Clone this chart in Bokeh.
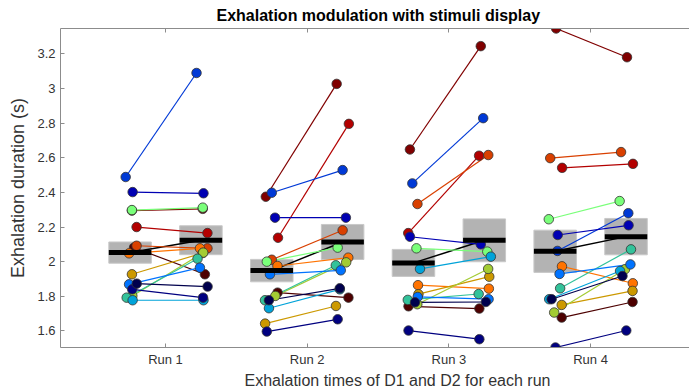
import numpy as np
from bokeh.plotting import figure
from bokeh.models import ColumnDataSource, FixedTicker, LinearAxis, Range1d, Title
from bokeh.embed import file_html
from bokeh.resources import INLINE

# ---------------- data ----------------
runs = ["Run 1", "Run 2", "Run 3", "Run 4"]
run_pos = [1, 2, 3, 4]

# one colour per subject (15 subjects)
subject_colors = ["#00004d", "#000080", "#0000b3", "#0039d6", "#0073ff",
                  "#00a3d9", "#33c29a", "#7aff7a", "#a3cc33", "#cc9900",
                  "#ff7300", "#d94000", "#b30000", "#800000", "#4d0000"]

# exhalation duration (s), D1 and D2, per run
d1_run1 = [1.873, 1.840, 2.402, 2.489, 1.869, 1.777, 1.792, 2.298, 1.802, 1.927, 2.048, 2.092, 2.200, 2.295, 2.081]
d2_run1 = [1.856, 1.792, 2.395, 3.090, 1.965, 1.777, 2.017, 2.312, 2.052, 2.050, 2.077, 2.077, 2.165, 2.305, 1.927]
d1_run2 = [1.777, 1.596, 2.254, 2.398, 1.927, 1.731, 1.777, 2.000, 1.802, 1.642, 1.975, 2.011, 2.138, 2.375, 1.821]
d2_run2 = [1.846, 1.667, 2.254, 2.529, 1.950, 1.840, 1.979, 2.081, 1.996, 1.744, 2.023, 2.181, 2.796, 3.027, 1.792]
d1_run3 = [1.765, 1.602, 2.144, 2.452, 1.796, 1.958, 1.779, 2.077, 1.754, 1.812, 1.864, 2.333, 2.165, 2.648, 1.742]
d2_run3 = [1.767, 1.552, 2.100, 2.829, 1.783, 2.029, 1.813, 2.058, 1.958, 1.913, 1.844, 2.616, 2.612, 3.245, 1.729]
d1_run4 = [1.783, 1.504, 2.154, 2.062, 1.929, 1.783, 1.846, 2.245, 1.706, 1.750, 1.973, 2.598, 2.542, 3.347, 1.677]
d2_run4 = [1.917, 1.602, 2.210, 2.280, 1.984, 1.946, 2.071, 2.350, 1.956, 1.831, 1.875, 2.633, 2.565, 3.181, 1.767]

# horizontal scatter of each subject within a run (x units)
jitter_run1 = [0.047, 0.015, 0.018, -0.031, -0.007, 0.018, -0.024, 0.013, 0.016, 0.013, -0.007, 0.046, 0.046, 0.013, 0.028]
jitter_run2 = [-0.020, -0.035, 0.023, 0.000, -0.013, -0.020, -0.048, -0.035, 0.025, -0.047, 0.040, 0.000, 0.044, -0.042, 0.041]
jitter_run3 = [0.011, -0.035, -0.025, -0.008, 0.030, 0.046, -0.040, 0.021, 0.027, 0.035, 0.032, 0.028, -0.037, -0.025, -0.035]
jitter_run4 = [-0.025, 0.002, 0.018, 0.016, 0.031, -0.042, 0.035, -0.045, -0.007, 0.046, 0.048, -0.035, 0.049, 0.007, 0.046]

y_ticks = [1.6, 1.8, 2.0, 2.2, 2.4, 2.6, 2.8, 3.0, 3.2]
y_tick_labels = ["1.6", "1.8", "2", "2.2", "2.4", "2.6", "2.8", "3", "3.2"]

d1_all = [d1_run1, d1_run2, d1_run3, d1_run4]
d2_all = [d2_run1, d2_run2, d2_run3, d2_run4]
jit_all = [jitter_run1, jitter_run2, jitter_run3, jitter_run4]

# ---------------- build sources ----------------
OFF = 0.25      # D1 left / D2 right of run tick
BOXW = 0.30

seg = dict(x0=[], y0=[], x1=[], y1=[], color=[])
pts = dict(x=[], y=[], color=[])
box = dict(left=[], right=[], bottom=[], top=[])
bar = dict(x0=[], x1=[], y=[])
mline = dict(x0=[], y0=[], x1=[], y1=[])

for r, xr in enumerate(run_pos):
    a = np.array(d1_all[r]); b = np.array(d2_all[r]); j = np.array(jit_all[r])
    for k in reversed(range(len(a))):
        x0 = xr - OFF + j[k]; x1 = xr + OFF + j[k]
        seg["x0"].append(x0); seg["y0"].append(a[k])
        seg["x1"].append(x1); seg["y1"].append(b[k])
        seg["color"].append(subject_colors[k])
        pts["x"] += [x0, x1]; pts["y"] += [a[k], b[k]]
        pts["color"] += [subject_colors[k]] * 2
    means = []
    for vals, xc in ((a, xr - OFF), (b, xr + OFF)):
        m = vals.mean(); s = vals.std(ddof=1) / np.sqrt(len(vals))
        means.append(m)
        box["left"].append(xc - BOXW / 2); box["right"].append(xc + BOXW / 2)
        box["bottom"].append(m - s); box["top"].append(m + s)
        bar["x0"].append(xc - BOXW / 2); bar["x1"].append(xc + BOXW / 2); bar["y"].append(m)
    mline["x0"].append(xr - OFF); mline["y0"].append(means[0])
    mline["x1"].append(xr + OFF); mline["y1"].append(means[1])

all_vals = np.concatenate([np.array(v) for v in d1_all + d2_all])

# ---------------- figure ----------------
AX = "#8c8c8c"
TXT = "#333333"
FONT = "Liberation Sans"

p = figure(width=689, height=389, output_backend="svg", toolbar_location=None,
           x_range=Range1d(0.259, 4.698),
           y_range=Range1d(all_vals.min(), all_vals.max()),
           min_border_left=60, min_border_right=0, min_border_top=0, min_border_bottom=42)
p.outline_line_color = None
p.grid.visible = False
p.background_fill_color = "white"

p.title.text = "Exhalation modulation with stimuli display"
p.title.align = "left"
p.title.offset = 156
p.title.text_font = FONT
p.title.text_font_size = "16px"
p.title.text_font_style = "bold"
p.title.text_color = "black"
p.title.standoff = 9

p.quad(source=ColumnDataSource(box), left="left", right="right", bottom="bottom", top="top",
       fill_color="#b3b3b3", line_color="#c8c8c8", line_width=1)
p.segment(source=ColumnDataSource(mline), x0="x0", y0="y0", x1="x1", y1="y1",
          line_color="black", line_width=1.5)
p.segment(source=ColumnDataSource(seg), x0="x0", y0="y0", x1="x1", y1="y1",
          line_color="color", line_width=1.2)
p.scatter(source=ColumnDataSource(pts), x="x", y="y", size=9.5,
          fill_color="color", line_color="#333333", line_width=0.8)
p.segment(source=ColumnDataSource(bar), x0="x0", y0="y", x1="x1", y1="y",
          line_color="black", line_width=5, line_cap="butt")

# axes
xa = p.xaxis[0]
xa.ticker = FixedTicker(ticks=run_pos)
xa.major_label_overrides = {xp: lab for xp, lab in zip(run_pos, runs)}
ya = p.yaxis[0]
ya.ticker = FixedTicker(ticks=y_ticks)
ya.major_label_overrides = {t: lab for t, lab in zip(y_ticks, y_tick_labels)}
ya.axis_label = "Exhalation duration (s)"
ya.axis_label_text_font = FONT
ya.axis_label_text_font_size = "18px"
ya.axis_label_text_font_style = "normal"
ya.axis_label_text_color = TXT
ya.axis_label_standoff = 6

for ax in (xa, ya):
    ax.axis_line_color = AX
    ax.major_tick_line_color = AX
    ax.major_tick_in = 4
    ax.major_tick_out = 0
    ax.minor_tick_line_color = None
    ax.major_label_text_font = FONT
    ax.major_label_text_font_size = "13px"
    ax.major_label_text_color = TXT
    ax.major_label_standoff = 5
xa.major_label_standoff = 4

top = LinearAxis(ticker=FixedTicker(ticks=run_pos), major_label_text_font_size="0px",
                 major_label_text_color=None, major_label_standoff=0,
                 axis_line_color=AX, major_tick_line_color=AX,
                 major_tick_in=4, major_tick_out=0, minor_tick_line_color=None)
p.add_layout(top, "above")

p.add_layout(Title(text="Exhalation times of D1 and D2 for each run", align="left", offset=184,
                   text_font=FONT, text_font_size="16px", text_font_style="normal",
                   text_color=TXT, standoff=0), "below")

open("out.html", "w").write(file_html(p, INLINE))
